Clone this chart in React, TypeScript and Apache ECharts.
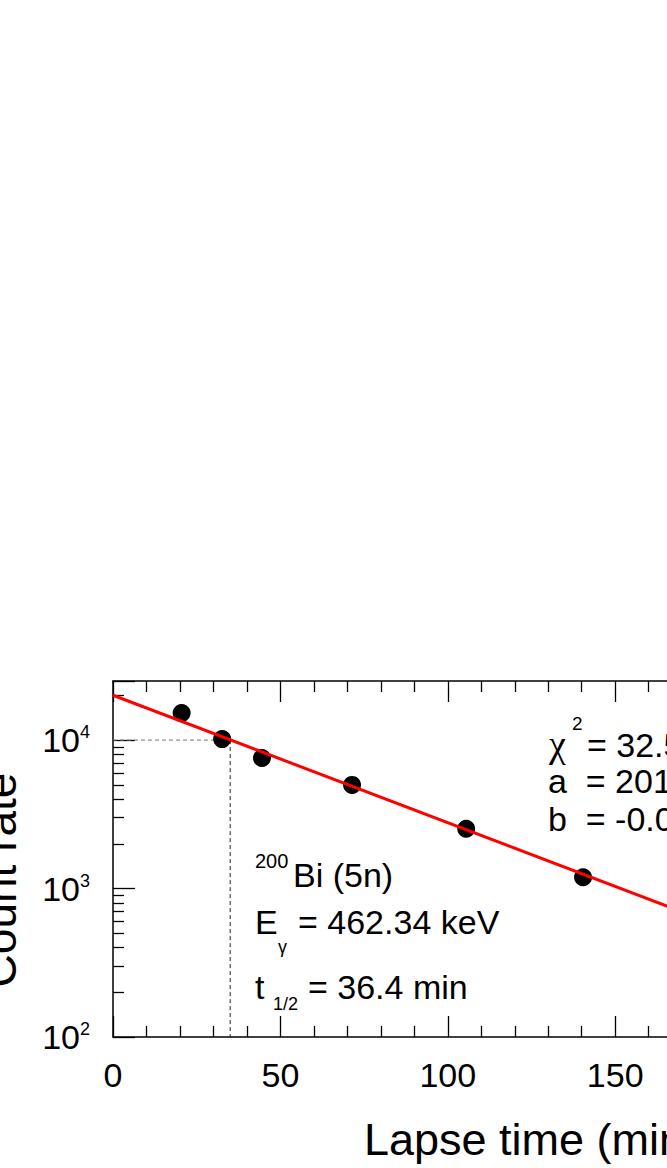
import React, { useEffect, useRef } from "react";
import * as echarts from "echarts";

// ---- data ----
const lapseTime = [20.5, 32.6, 44.5, 71.4, 105.5, 140.4];
const countRate = [15200, 10150, 7580, 4990, 2530, 1190];
const fitTime = [0, 250];
const fitRate = [20050, 143];
const halfTime = 35;
const halfRate = 10000;
const xMin = 0;
const xMax = 250;
const xStep = 50;
const yMin = 100;
const yMax = 25000;
const yMinorTicks = [200, 300, 400, 500, 600, 700, 800, 900, 2000, 3000, 4000, 5000, 6000, 7000, 8000, 9000, 20000];

const FONT = "Liberation Sans, Arial, Helvetica, sans-serif";

export default function App() {
  const ref = useRef<HTMLDivElement>(null);
  useEffect(() => {
    if (!ref.current) return;
    const chart = echarts.init(ref.current, null, { renderer: "svg" });
    const black = "#000";
    const txt = (text: string, x: number, y: number, size: number, extra: any = {}) => ({
      type: "text",
      x,
      y,
      silent: true,
      style: {
        text,
        fontSize: size,
        fontFamily: FONT,
        fill: black,
        align: "left",
        verticalAlign: "middle",
        ...extra,
      },
    });
    const xAxisBase = {
      type: "value",
      min: xMin,
      max: xMax,
      interval: xStep,
      splitLine: { show: false },
      axisLine: { show: true, onZero: false, lineStyle: { color: black, width: 1.5 } },
      axisTick: { show: true, inside: true, length: 21, lineStyle: { color: black, width: 1.3 } },
      minorTick: { show: true, splitNumber: 5, length: 11, lineStyle: { color: black, width: 1.3 } },
    };
    const yTitle: any = txt("Count rate", 0, 880, 46, { align: "center", verticalAlign: "middle" });
    yTitle.rotation = Math.PI / 2;
    chart.setOption({
      animation: false,
      backgroundColor: "#fff",
      grid: { left: 113, top: 681, width: 837, height: 356, containLabel: false },
      xAxis: [
        {
          ...xAxisBase,
          position: "bottom",
          name: "Lapse time (min)",
          nameLocation: "middle",
          nameGap: 80,
          nameTextStyle: { fontSize: 45, fontFamily: FONT, color: black },
          axisLabel: { show: true, margin: 21, fontSize: 34, fontFamily: FONT, color: black },
        },
        {
          ...xAxisBase,
          position: "top",
          axisLabel: { show: false },
        },
      ],
      yAxis: [
        {
          type: "log",
          logBase: 10,
          min: yMin,
          max: yMax,
          position: "left",
          splitLine: { show: false },
          axisLine: { show: true, onZero: false, lineStyle: { color: black, width: 1.5 } },
          axisTick: { show: true, inside: true, length: 22, lineStyle: { color: black, width: 1.3 } },
          axisLabel: {
            show: true,
            margin: 23,
            formatter: (v: number) => {
              const l = Math.log10(v);
              const e = Math.round(l);
              if (Math.abs(l - e) > 1e-6) return "";
              return `{b|10}{s|${e}}`;
            },
            rich: {
              b: { fontSize: 34, lineHeight: 34, fontFamily: FONT, color: black, verticalAlign: "bottom" },
              s: { fontSize: 18, lineHeight: 18, fontFamily: FONT, color: black, verticalAlign: "top", padding: [0, 0, 19, 0] },
            },
          },
        },
        {
          type: "log",
          logBase: 10,
          min: yMin,
          max: yMax,
          position: "left",
          splitLine: { show: false },
          axisLine: { show: false },
          axisLabel: { show: false },
          axisTick: {
            show: true,
            inside: true,
            length: 11,
            customValues: yMinorTicks,
            lineStyle: { color: black, width: 1.3 },
          },
        },
      ],
      series: [
        {
          type: "line",
          xAxisIndex: 0,
          yAxisIndex: 0,
          data: [
            [xMin, halfRate],
            [halfTime, halfRate],
          ],
          symbol: "none",
          lineStyle: { color: "#777", width: 1, type: [4, 3] },
          z: 1,
        },
        {
          type: "line",
          xAxisIndex: 0,
          yAxisIndex: 0,
          data: [
            [halfTime, halfRate],
            [halfTime, yMin],
          ],
          symbol: "none",
          lineStyle: { color: "#222", width: 1, type: [4, 3] },
          z: 1,
        },
        {
          type: "scatter",
          xAxisIndex: 0,
          yAxisIndex: 0,
          data: lapseTime.map((t, i) => [t, countRate[i]]),
          symbol: "circle",
          symbolSize: 18,
          itemStyle: { color: black, opacity: 1 },
          z: 3,
        },
        {
          type: "line",
          xAxisIndex: 0,
          yAxisIndex: 0,
          data: fitTime.map((t, i) => [t, fitRate[i]]),
          symbol: "none",
          lineStyle: { color: "#ff0000", width: 3 },
          z: 4,
        },
      ],
      graphic: [
        yTitle,
        txt("200", 255, 861, 20),
        txt("Bi (5n)", 293, 875, 34),
        txt("E", 255, 922, 34),
        txt("γ", 278, 947, 18),
        txt("= 462.34 keV", 298, 922, 34),
        txt("t", 255, 987, 34),
        txt("1/2", 273, 1004, 18),
        txt("= 36.4 min", 308, 987, 34),
        txt("χ", 549, 744, 38, { fontFamily: "Liberation Serif, DejaVu Serif, serif" }),
        txt("2", 572, 723, 19),
        txt("= 32.5", 587, 745, 34),
        txt("a  = 20123", 548, 781, 34),
        txt("b  = -0.0190", 548, 819, 34),
      ],
    });
    return () => chart.dispose();
  }, []);
  return (
    <div style={{ position: "fixed", left: 0, top: 0, width: 667, height: 1168, overflow: "hidden", background: "#fff" }}>
      <div ref={ref} style={{ width: 1000, height: 1168 }} />
    </div>
  );
}
